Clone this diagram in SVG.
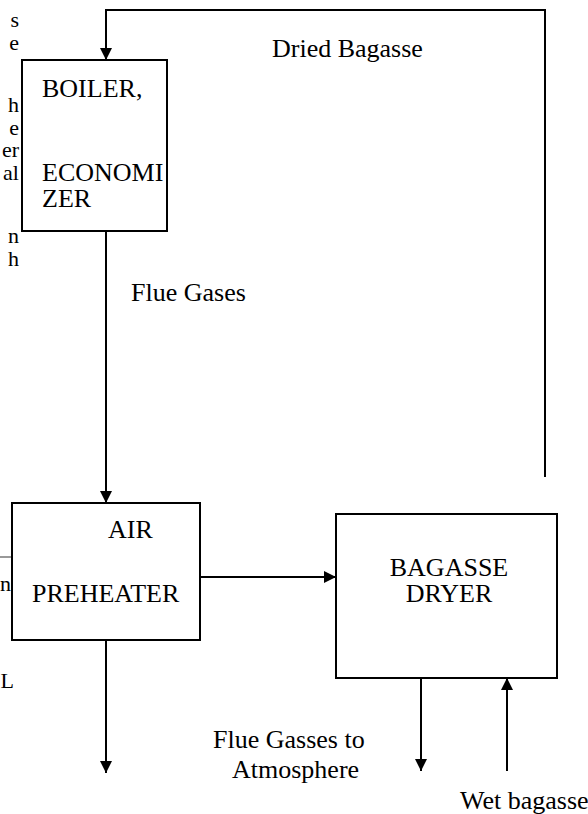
<svg xmlns="http://www.w3.org/2000/svg" width="588" height="814" viewBox="0 0 588 814">
<style>
.t{font-family:"Liberation Serif","Times New Roman",serif;font-size:26px;fill:#000}
.m{font-family:"Liberation Serif","Times New Roman",serif;font-size:22px;fill:#000}
.box{fill:#fff;stroke:#000;stroke-width:2}
.ln{fill:none;stroke:#000;stroke-width:2}
</style>
<defs>
<marker id="ah" viewBox="0 0 12 12" refX="12" refY="6" markerWidth="12" markerHeight="12" markerUnits="userSpaceOnUse" orient="auto">
<path d="M0,0 L12,6 L0,12 Z" fill="#000"/>
</marker>
</defs>
<rect width="588" height="814" fill="#fff"/>
<g id="margin-text" class="m" text-anchor="end">
<text x="19" y="27">s</text>
<text x="19" y="50">e</text>
<text x="19" y="112">h</text>
<text x="19" y="135">e</text>
<text x="19" y="157">er</text>
<text x="19" y="180">al</text>
<text x="19" y="243">n</text>
<text x="19" y="266">h</text>
<text x="11" y="591">n</text>
<text x="14" y="688">L</text>
<line x1="0" y1="557" x2="12" y2="557" stroke="#777" stroke-width="1.5"/>
</g>
<g id="connectors">
<polyline class="ln" points="545,477 545,10 106,10 106,60" marker-end="url(#ah)"/>
<line class="ln" x1="106" y1="231" x2="106" y2="503" marker-end="url(#ah)"/>
<line class="ln" x1="200" y1="577" x2="336" y2="577" marker-end="url(#ah)"/>
<line class="ln" x1="106" y1="640" x2="106" y2="773" marker-end="url(#ah)"/>
<line class="ln" x1="421" y1="678" x2="421" y2="771" marker-end="url(#ah)"/>
<line class="ln" x1="507" y1="771" x2="507" y2="678" marker-end="url(#ah)"/>
</g>
<g id="labels" class="t">
<text x="272" y="57">Dried Bagasse</text>
<text x="131" y="301">Flue Gases</text>
<text x="213" y="748">Flue Gasses to</text>
<text x="232" y="778">Atmosphere</text>
<text x="460" y="809">Wet bagasse</text>
</g>
<g id="boiler">
<rect class="box" x="22" y="60" width="145" height="171"/>
<text class="t" x="42" y="97">BOILER,</text>
<text class="t" x="42" y="181">ECONOMI</text>
<text class="t" x="42" y="207">ZER</text>
</g>
<g id="air-preheater">
<rect class="box" x="12" y="503" width="188" height="137"/>
<text class="t" x="108" y="538">AIR</text>
<text class="t" x="32" y="602">PREHEATER</text>
</g>
<g id="bagasse-dryer">
<rect class="box" x="336" y="514" width="221" height="164"/>
<text class="t" x="449" y="576" text-anchor="middle">BAGASSE</text>
<text class="t" x="449" y="602" text-anchor="middle">DRYER</text>
</g>
</svg>
